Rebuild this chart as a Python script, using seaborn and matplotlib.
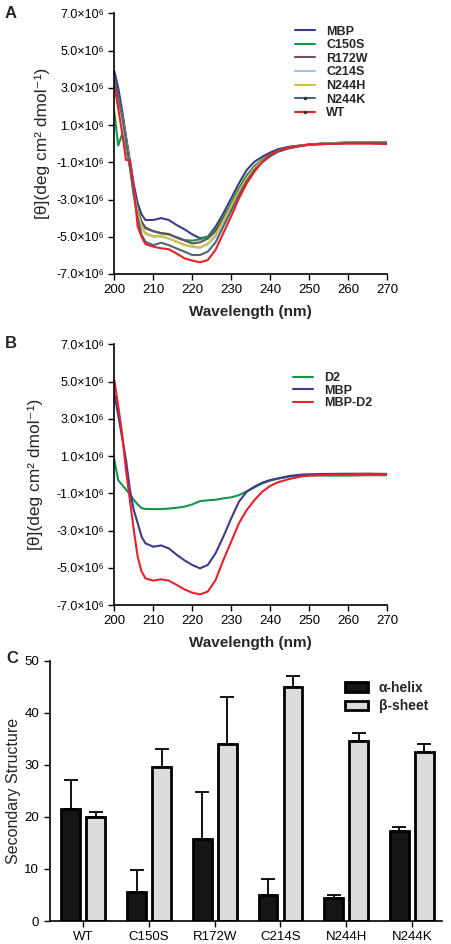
import matplotlib
matplotlib.use('Agg')
import numpy as np
import pandas as pd
import seaborn as sns
from matplotlib import pyplot as plt
from matplotlib.lines import Line2D
from matplotlib.patches import Patch
from matplotlib.ticker import FuncFormatter

sns.set_style("ticks")
plt.rcParams['font.family'] = ['Liberation Sans', 'DejaVu Sans']

# wavelength grid (nm) and molar ellipticity (units of 1e6 deg cm2 dmol-1)
wavelength = [200, 201, 202, 203, 204, 205, 206, 207, 208, 210, 212, 214, 216, 218, 220, 222,
              224, 226, 228, 230, 232, 234, 236, 238, 240, 242, 245, 248, 250, 255, 260, 265, 270]

mbp_a = [3.9, 3.0, 1.8, 0.4, -0.9, -2.2, -3.2, -3.8, -4.1, -4.1, -4.0, -4.1, -4.37, -4.6, -4.87, -5.08,
         -5.0, -4.46, -3.74, -2.94, -2.13, -1.41, -0.97, -0.7, -0.48, -0.3, -0.16, -0.09, -0.04, 0.02, 0.05, 0.07, 0.05]
c150s_a = [1.7, -0.1, 0.5, -0.2, -1.2, -2.5, -3.6, -4.2, -4.5, -4.7, -4.82, -4.88, -5.02, -5.18, -5.21, -5.14,
           -5.0, -4.6, -3.95, -3.2, -2.4, -1.7, -1.2, -0.85, -0.58, -0.38, -0.2, -0.1, -0.05, 0.02, 0.06, 0.08, 0.08]
r172w_a = [3.5, 2.6, 1.6, 0.3, -1.1, -2.5, -3.6, -4.2, -4.55, -4.7, -4.8, -4.85, -5.05, -5.2, -5.36, -5.3,
           -5.1, -4.7, -4.05, -3.3, -2.5, -1.8, -1.25, -0.9, -0.62, -0.4, -0.22, -0.11, -0.05, 0.02, 0.05, 0.07, 0.05]
c214s_a = [3.3, 2.4, 1.5, 0.2, -1.2, -2.6, -3.8, -4.5, -4.85, -5.0, -5.0, -5.1, -5.27, -5.42, -5.55, -5.6,
           -5.4, -5.0, -4.25, -3.45, -2.65, -1.9, -1.35, -0.95, -0.65, -0.42, -0.23, -0.12, -0.06, 0.0, 0.04, 0.05, 0.04]
n244h_a = [3.2, 2.3, 1.4, 0.1, -1.2, -2.6, -3.7, -4.45, -4.8, -4.96, -4.95, -5.1, -5.25, -5.45, -5.5, -5.57,
           -5.36, -4.9, -4.15, -3.35, -2.55, -1.85, -1.3, -0.92, -0.63, -0.41, -0.22, -0.11, -0.05, 0.01, 0.05, 0.06, 0.05]
n244k_a = [3.4, 2.5, 1.5, 0.2, -1.3, -2.8, -4.0, -4.9, -5.27, -5.45, -5.32, -5.45, -5.63, -5.8, -5.98, -5.98,
           -5.8, -5.3, -4.45, -3.6, -2.75, -2.0, -1.4, -1.0, -0.68, -0.44, -0.24, -0.12, -0.06, 0.0, 0.04, 0.05, 0.04]
wt_a = [3.1, 1.9, 0.6, -0.88, -0.9, -2.3, -4.45, -5.0, -5.4, -5.53, -5.62, -5.67, -5.9, -6.16, -6.28, -6.37,
        -6.25, -5.7, -4.8, -3.9, -2.94, -2.13, -1.5, -0.97, -0.6, -0.38, -0.21, -0.11, -0.05, -0.02, 0.0, 0.0, -0.02]

d2_b = [0.8, -0.3, -0.55, -0.8, -1.05, -1.35, -1.6, -1.8, -1.84, -1.85, -1.85, -1.82, -1.78, -1.72, -1.6, -1.42,
        -1.38, -1.35, -1.27, -1.22, -1.1, -0.9, -0.68, -0.47, -0.32, -0.22, -0.1, -0.05, -0.04, -0.05, -0.05, -0.03, -0.03]
mbp_b = [4.35, 3.2, 2.0, 0.8, -0.8, -1.9, -2.6, -3.33, -3.69, -3.87, -3.8, -3.96, -4.3, -4.6, -4.85, -5.03,
         -4.85, -4.22, -3.33, -2.35, -1.45, -0.91, -0.64, -0.43, -0.29, -0.2, -0.07, 0.0, 0.02, 0.04, 0.05, 0.05, 0.04]
mbpd2_b = [5.08, 3.7, 2.2, 0.25, -1.36, -2.97, -4.4, -5.2, -5.57, -5.69, -5.62, -5.69, -5.92, -6.16, -6.34, -6.43,
           -6.28, -5.66, -4.58, -3.6, -2.61, -1.9, -1.36, -0.91, -0.61, -0.41, -0.23, -0.1, -0.05, 0.0, 0.02, 0.04, 0.02]

series_a = ['MBP', 'C150S', 'R172W', 'C214S', 'N244H', 'N244K', 'WT']
colors_a = ['#3c3c8e', '#16964a', '#6e4c64', '#a4bfe4', '#cfc43c', '#4c6878', '#e8202a']
series_b = ['D2', 'MBP', 'MBP-D2']
colors_b = ['#16964a', '#3c3c8e', '#e8202a']

# panel C: secondary structure
mutants = ['WT', 'C150S', 'R172W', 'C214S', 'N244H', 'N244K']
helix = [21.5, 5.5, 15.8, 5.0, 4.5, 17.3]
helix_err = [5.5, 4.3, 8.9, 3.0, 0.5, 0.7]
sheet = [20.0, 29.5, 34.0, 45.0, 34.5, 32.5]
sheet_err = [1.0, 3.5, 9.0, 2.0, 1.5, 1.5]

W, H = 451, 944
fig = plt.figure(figsize=(W / 100, H / 100), dpi=100)


def px_axes(left, top, right, bottom):
    return fig.add_axes([left / W, 1 - bottom / H, (right - left) / W, (bottom - top) / H])


def cd_panel(ax, names, data, colors, leg_xy, leg_space, label_x):
    df = pd.DataFrame({'wl': wavelength * len(names),
                       'theta': sum(data, []),
                       'sample': sum([[n] * len(wavelength) for n in names], [])})
    sns.lineplot(data=df, x='wl', y='theta', hue='sample', hue_order=names,
                 palette=dict(zip(names, colors)), linewidth=1.5, ax=ax, legend=False)
    ax.set(xlim=(200, 270), ylim=(-7, 7))
    ax.set_xticks(range(200, 271, 10))
    ax.set_yticks(np.arange(-7, 7.1, 2))
    ax.yaxis.set_major_formatter(FuncFormatter(lambda v, p: '{:.1f}×10⁶'.format(v).replace('−', '-')))
    ax.tick_params(axis='x', labelsize=9.5, length=4, width=1, colors='black')
    ax.tick_params(axis='y', labelsize=9, length=4, width=1, colors='black')
    ax.set_xlabel('Wavelength (nm)', fontsize=11, fontweight='bold', labelpad=6)
    ax.set_ylabel('[θ](deg cm² dmol⁻¹)', fontsize=12.5)
    ax.yaxis.set_label_coords(label_x, 0.5)
    for s in ['left', 'bottom']:
        ax.spines[s].set_linewidth(1.2)
        ax.spines[s].set_color('black')
    sns.despine(ax=ax)
    handles = []
    for n, c in zip(names, colors):
        if n in ('N244K', 'WT'):
            handles.append(Line2D([], [], color=c, lw=1.5, marker='o', ms=1.5, mfc='#333333', mec='#333333'))
        else:
            handles.append(Line2D([], [], color=c, lw=1.5))
    ax.legend(handles, names, loc='upper left', bbox_to_anchor=leg_xy, frameon=False,
              prop={'weight': 'bold', 'size': 9}, handlelength=1.6, handletextpad=0.9,
              labelspacing=leg_space, borderpad=0, borderaxespad=0)


axA = px_axes(114.3, 13.3, 387, 274)
cd_panel(axA, series_a, [mbp_a, c150s_a, r172w_a, c214s_a, n244h_a, n244k_a, wt_a], colors_a,
         (0.663, 0.953), 0.13, -0.236)

axB = px_axes(114.3, 344.3, 387, 605)
cd_panel(axB, series_b, [d2_b, mbp_b, mbpd2_b], colors_b, (0.655, 0.892), 0.03, -0.262)

axC = px_axes(49.5, 660.5, 441.5, 921)
dfc = pd.DataFrame({'mutant': mutants * 2,
                    'value': helix + sheet,
                    'kind': ['α-helix'] * len(mutants) + ['β-sheet'] * len(mutants)})
sns.barplot(data=dfc, x='mutant', y='value', hue='kind', order=mutants,
            palette={'α-helix': '#151515', 'β-sheet': '#dcdcdc'}, width=0.76, gap=0.25,
            edgecolor='black', linewidth=2, errorbar=None, legend=False, ax=axC)
for cont, err in zip(axC.containers, [helix_err, sheet_err]):
    xs = [b.get_x() + b.get_width() / 2 for b in cont]
    ys = [b.get_height() for b in cont]
    axC.errorbar(xs, ys, yerr=[np.zeros(len(err)), err], fmt='none', ecolor='black',
                 elinewidth=1.3, capsize=5, capthick=1.3, zorder=0)
axC.set(xlim=(-0.515, 5.45), ylim=(0, 50), xlabel='')
axC.set_yticks(range(0, 51, 10))
axC.set_ylabel('Secondary Structure', fontsize=11.5)
axC.yaxis.set_label_coords(-0.073, 0.5)
axC.tick_params(axis='x', labelsize=9.5, length=4, width=1, colors='black')
axC.tick_params(axis='y', labelsize=9.5, length=4, width=1, colors='black')
for s in ['left', 'bottom']:
    axC.spines[s].set_linewidth(1.2)
    axC.spines[s].set_color('black')
sns.despine(ax=axC)
leg_handles = [Patch(facecolor='#151515', edgecolor='black', linewidth=2),
               Patch(facecolor='#dcdcdc', edgecolor='black', linewidth=2)]
axC.legend(leg_handles, ['α-helix', 'β-sheet'], loc='upper left', bbox_to_anchor=(0.755, 0.923),
           frameon=False, prop={'weight': 'bold', 'size': 10}, handlelength=1.6, handleheight=0.7,
           handletextpad=0.8, labelspacing=0.35, borderpad=0, borderaxespad=0)

for letter, x, y in [('A', 5, 6), ('B', 5, 336), ('C', 6, 651)]:
    fig.text(x / W, 1 - y / H, letter, fontsize=12, fontweight='bold', va='top', ha='left')

fig.savefig('out.png', dpi=100)
